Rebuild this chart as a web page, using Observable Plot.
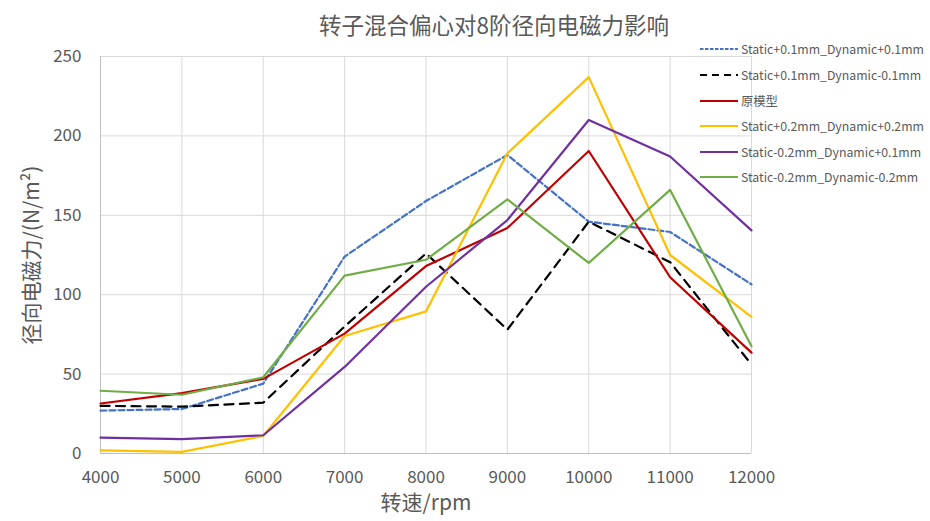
<!DOCTYPE html>
<html>
<head>
<meta charset="utf-8">
<script src="https://cdn.jsdelivr.net/npm/d3@7"></script>
<script src="https://cdn.jsdelivr.net/npm/@observablehq/plot@0.6"></script>
<style>
  html, body { margin: 0; padding: 0; background: #fff; }
  #wrap { position: relative; width: 930px; height: 521px; font-family: "Noto Sans CJK SC", "Noto Sans", sans-serif; }
  #legend { position: absolute; left: 0; top: 0; }
  .lg { position: absolute; display: flex; align-items: center; height: 18px; font-size: 12.3px; color: #595959; white-space: nowrap; }
  .lg svg { display: block; margin-right: 2px; }
</style>
</head>
<body>
<div id="wrap"><div id="legend"></div></div>
<script>
const title = "转子混合偏心对8阶径向电磁力影响";
const xLabel = "转速/rpm";
const yLabel = "径向电磁力/(N/m²)";
const rpm = [4000, 5000, 6000, 7000, 8000, 9000, 10000, 11000, 12000];
const seriesNames = [
  "Static+0.1mm_Dynamic+0.1mm",
  "Static+0.1mm_Dynamic-0.1mm",
  "原模型",
  "Static+0.2mm_Dynamic+0.2mm",
  "Static-0.2mm_Dynamic+0.1mm",
  "Static-0.2mm_Dynamic-0.2mm"
];
const s1p_d1p = [27, 28, 44, 124, 159, 188, 146, 139.5, 106.5];
const s1p_d1m = [30, 29.5, 32, 80, 126, 78, 146, 120.5, 56];
const original = [31.5, 38, 47, 75.5, 118, 142, 190.5, 111, 63.5];
const s2p_d2p = [2, 1, 11, 74, 89.5, 189, 237, 125, 86];
const s2m_d1p = [10, 9, 11.5, 54.5, 105, 147, 210, 187, 140.5];
const s2m_d2m = [39.5, 37, 48, 112, 122, 160, 120, 166, 67.5];
const xTicks = [4000, 5000, 6000, 7000, 8000, 9000, 10000, 11000, 12000];
const yTicks = [0, 50, 100, 150, 200, 250];

const seriesValues = [s1p_d1p, s1p_d1m, original, s2p_d2p, s2m_d1p, s2m_d2m];
const colors = ["#4472C4", "#000000", "#C00000", "#FFC000", "#7030A0", "#70AD47"];
const dashes = ["6,3", "9,6.5", null, null, null, null];

const lineMarks = seriesValues.map((vals, i) => {
  const rows = rpm.map((r, j) => ({x: r, y: vals[j]}));
  const opts = {x: "x", y: "y", stroke: colors[i], strokeWidth: 2.2, strokeLinejoin: "round", curve: "linear"};
  if (dashes[i]) opts.strokeDasharray = dashes[i];
  return Plot.line(rows, opts);
});

const textColor = "#595959";
const chart = Plot.plot({
  width: 930, height: 521,
  marginLeft: 100, marginRight: 179, marginTop: 56, marginBottom: 68,
  style: {fontFamily: '"Noto Sans CJK SC", "Noto Sans", sans-serif', color: textColor, background: "#fff"},
  x: {domain: [4000, 12000], ticks: xTicks},
  y: {domain: [0, 250], ticks: yTicks},
  marks: [
    Plot.gridX(xTicks, {stroke: "#d9d9d9", strokeOpacity: 1, strokeWidth: 1}),
    Plot.gridY(yTicks, {stroke: "#d9d9d9", strokeOpacity: 1, strokeWidth: 1}),
    Plot.ruleY([0], {stroke: "#bfbfbf", strokeWidth: 1}),
    Plot.ruleX([4000], {stroke: "#bfbfbf", strokeWidth: 1}),
    Plot.axisX(xTicks, {tickSize: 0, tickPadding: 17, fontSize: 17, label: null, fill: textColor, tickFormat: d => String(d)}),
    Plot.axisY(yTicks, {tickSize: 0, tickPadding: 19, fontSize: 17, label: null, fill: textColor}),
    ...lineMarks,
    Plot.text([title], {frameAnchor: "top", dx: 68, dy: -30, fontSize: 22.5, fill: textColor, textAnchor: "middle", lineAnchor: "middle"}),
    Plot.text([xLabel], {frameAnchor: "bottom", dy: 50, fontSize: 21, fill: textColor, textAnchor: "middle", lineAnchor: "middle"}),
    Plot.text([yLabel], {frameAnchor: "left", dx: -68, rotate: -90, fontSize: 21, fill: textColor, textAnchor: "middle", lineAnchor: "middle"})
  ]
});
document.getElementById("wrap").prepend(chart);

const legend = document.getElementById("legend");
const rowY = [49, 75, 101, 126, 152, 177];
seriesNames.forEach((name, i) => {
  const row = document.createElement("div");
  row.className = "lg";
  row.style.left = "699px";
  row.style.top = (rowY[i] - 9) + "px";
  const dash = dashes[i] ? `stroke-dasharray="${i === 0 ? "3.5,1.5" : "7,5"}"` : "";
  row.innerHTML = `<svg width="40" height="6"><line x1="1" y1="3" x2="39" y2="3" stroke="${colors[i]}" stroke-width="2.2" ${dash}/></svg><span>${name}</span>`;
  legend.appendChild(row);
});
</script>
</body>
</html>
